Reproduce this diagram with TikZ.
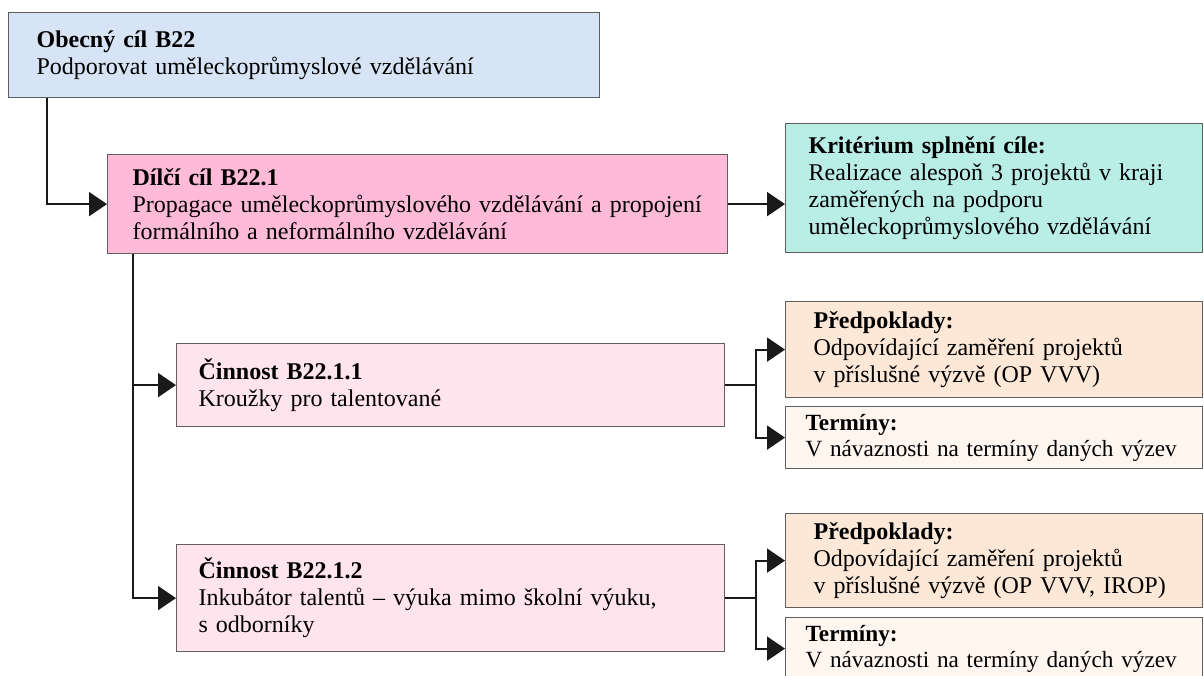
\documentclass[tikz,border=0pt]{standalone}
\usepackage{fontspec}
\setmainfont{Liberation Serif}
\usepackage{xcolor}
\usepackage{tikz}
\usetikzlibrary{arrows.meta,positioning}
\definecolor{goalblue}{HTML}{D7E4F5}
\definecolor{subpink}{HTML}{FFBAD8}
\definecolor{critteal}{HTML}{B9EEE6}
\definecolor{actpink}{HTML}{FFE4EE}
\definecolor{prepeach}{HTML}{FDE8D7}
\definecolor{termcream}{HTML}{FFF6F0}
\definecolor{edge}{HTML}{5F5F5F}
\definecolor{wire}{HTML}{1A1A1A}

\begin{document}
\begin{tikzpicture}[x=1pt,y=-1pt,>={Triangle[length=18pt,width=24pt]},
  box/.style={draw=edge,line width=1.2pt,anchor=north west,align=left,
    font=\fontsize{24}{27}\selectfont,inner ysep=0pt},
  termbox/.style={box,fill=termcream,inner xsep=20pt,text width=377pt,
    minimum height=62pt,font=\fontsize{23.2}{26}\selectfont},
  wire/.style={draw=wire,line width=2pt}]
\useasboundingbox (0,0) rectangle (1204,675);

\node[box,fill=goalblue,inner xsep=28pt,text width=535pt,minimum height=85pt]
  (obec) at (8,12)
  {\textbf{Obecný cíl B22}\\Podporovat uměleckoprůmyslové vzdělávání};
\node[box,fill=subpink,inner xsep=25pt,text width=570pt,minimum height=99pt]
  (dilci) at (107,154)
  {\textbf{Dílčí cíl B22.1}\\Propagace uměleckoprůmyslového vzdělávání a propojení\\
   formálního a neformálního vzdělávání};
\node[box,fill=critteal,inner xsep=23pt,text width=371pt,minimum height=129pt]
  (krit) at (785,123)
  {\textbf{Kritérium splnění cíle:}\\Realizace alespoň 3 projektů v kraji\\
   zaměřených na podporu\\uměleckoprůmyslového vzdělávání};

\node[box,fill=actpink,inner xsep=22pt,text width=504pt,minimum height=83pt]
  (cin1) at (176,343)
  {\textbf{Činnost B22.1.1}\\Kroužky pro talentované};
\node[box,fill=actpink,inner xsep=22pt,text width=504pt,minimum height=107pt]
  (cin2) at (176,544)
  {\textbf{Činnost B22.1.2}\\Inkubátor talentů – výuka mimo školní výuku,\\s odborníky};

\node[box,fill=prepeach,inner xsep=28pt,text width=361pt,minimum height=96pt]
  (pred1) at (785,301)
  {\textbf{Předpoklady:}\\Odpovídající zaměření projektů\\v příslušné výzvě (OP VVV)};
\node[termbox] (term1) at (785,406)
  {\textbf{Termíny:}\\V návaznosti na termíny daných výzev};
\node[box,fill=prepeach,inner xsep=28pt,text width=361pt,minimum height=94pt]
  (pred2) at (785,513)
  {\textbf{Předpoklady:}\\Odpovídající zaměření projektů\\v příslušné výzvě (OP VVV, IROP)};
\node[termbox] (term2) at (785,617)
  {\textbf{Termíny:}\\V návaznosti na termíny daných výzev};

\draw[wire,->] ([xshift=39pt]obec.south west) |- (dilci.west);
\draw[wire,->] (dilci.east) -- (dilci.east -| krit.west);
\draw[wire,->] ([xshift=26pt]dilci.south west) |- (cin1.west);
\draw[wire,->] ([xshift=26pt]dilci.south west) |- (cin2.west);

\draw[wire] (cin1.east) -- ++(31,0) coordinate (fork1);
\draw[wire,->] (fork1) |- (pred1.west);
\draw[wire,->] (fork1) |- (term1.west);
\draw[wire] (cin2.east) -- ++(31,0) coordinate (fork2);
\draw[wire,->] (fork2) |- (pred2.west);
\draw[wire,->] (fork2) |- (term2.west);
\end{tikzpicture}
\end{document}
